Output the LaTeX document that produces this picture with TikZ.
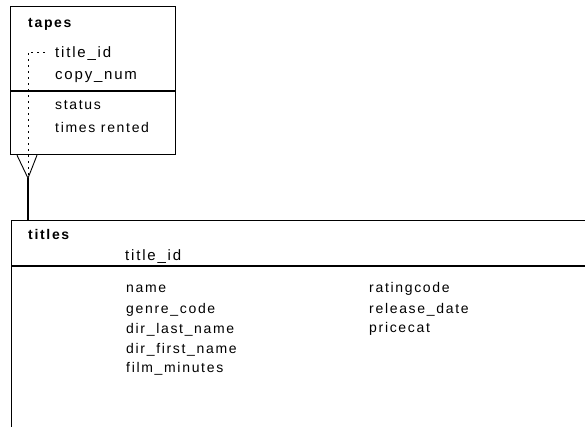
\documentclass[tikz,border=0pt]{standalone}
\usepackage{fontspec}
\setmainfont{Liberation Sans}
\usepackage{tikz}
\usetikzlibrary{positioning, calc}

\newfontfamily\erfont[LetterSpace=12]{Liberation Sans}

\begin{document}
\begin{tikzpicture}[x=1pt, y=-1pt,
  entbox/.style={rectangle, draw, line width=1.2pt, inner sep=0pt, anchor=north west},
  entname/.style={anchor=base west, inner sep=0pt, font=\erfont\fontsize{14}{16}\selectfont\bfseries},
  keyattr/.style={anchor=base west, inner sep=0pt, font=\erfont\fontsize{15}{17}\selectfont},
  attr/.style={anchor=base west, inner sep=0pt, font=\erfont\fontsize{14}{16}\selectfont},
  rel/.style={line width=1.2pt},
  crowline/.style={line width=0.9pt},
  fkline/.style={line width=0.9pt, dash pattern=on 2pt off 4pt}
]
\clip (0,0) rectangle (585,427);
\fill[white] (0,0) rectangle (585,427);

% entities
\node[entbox, minimum width=165pt, minimum height=148pt] (tapes) at (10,6) {};
\node[entbox, minimum width=600pt, minimum height=240pt] (titles) at (11,220) {};
\draw[rel] ($(tapes.north west)+(0,85)$) -- ($(tapes.north east)+(0,85)$);
\draw[rel] ($(titles.north west)+(0,46)$) -- ($(titles.north east)+(0,46)$);

% tapes
\node[entname] (tapesname) at (28,28) {tapes};
\node[keyattr] (tapesid) at (55,58) {title\_id};
\node[keyattr] (copynum) at (55,80) {copy\_num};
\node[attr] (status) at (55,110) {status};
\node[attr] (rented) at (55,133) {times rented};

% titles
\node[entname] (titlesname) at (28,240) {titles};
\node[keyattr] (titlesid) at (125,260) {title\_id};
\node[attr] (name) at (126,292) {name};
\node[attr] (genre) at (126,313) {genre\_code};
\node[attr] (dirlast) at (126,333) {dir\_last\_name};
\node[attr] (dirfirst) at (126,353) {dir\_first\_name};
\node[attr] (minutes) at (126,372) {film\_minutes};
\node[attr] (rating) at (369,292) {ratingcode};
\node[attr] (release) at (369,313) {release\_date};
\node[attr] (price) at (369,332) {pricecat};

% relationship
\coordinate (crow) at ($(tapes.south west)+(18,23)$);
\coordinate (fkstart) at ($(tapesid.west)+(-10,-2)$);
\draw[fkline] (fkstart) -| (crow);
\draw[crowline] ($(tapes.south west)+(7,0)$) -- (crow) -- ($(tapes.south west)+(27,0)$);
\draw[rel] (crow) -- (crow |- titles.north);
\end{tikzpicture}
\end{document}
